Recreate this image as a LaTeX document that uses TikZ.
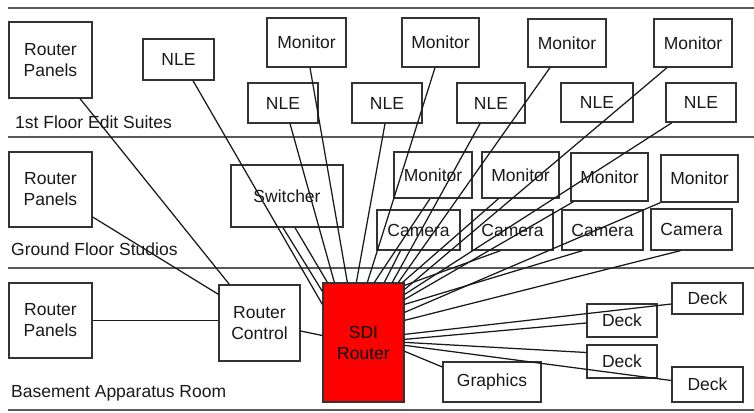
\documentclass[tikz,border=0pt]{standalone}
\usepackage{fontspec}
\setmainfont{Liberation Sans}
\usetikzlibrary{calc}
\begin{document}
\begin{tikzpicture}[x=1pt,y=-1pt,
  box/.style={draw=black!80, line width=1.3pt, inner sep=0pt, align=center,
    font=\fontsize{17.5}{21}\selectfont, text=black!90},
  wire/.style={line width=1.25pt, draw=black!90},
  floorline/.style={line width=1.6pt, draw=black!65},
  floorlabel/.style={anchor=base west, inner sep=0pt,
    font=\fontsize{17.5}{21}\selectfont, text=black!90}]

\useasboundingbox (0,0) rectangle (754,412);

% floor separators
\draw[floorline] (8,8) -- (754,8);
\draw[floorline] (8,137) -- (754,137);
\draw[floorline] (8,268) -- (754,268);
\draw[floorline] (8,410) -- (754,410);

% floor names
\node[floorlabel] (lab1) at (15,128) {1st Floor Edit Suites};
\node[floorlabel] (lab2) at (11,255) {Ground Floor Studios};
\node[floorlabel] (lab3) at (11,397) {Basement Apparatus Room};

% 1st floor
\node[box, minimum width=83pt, minimum height=76pt] (rp1) at (50.5,60) {Router\\Panels};
\node[box, minimum width=71pt, minimum height=41pt] (nle1) at (178.5,59.5) {NLE};
\node[box, minimum width=79pt, minimum height=49pt] (mon1) at (306.5,42.5) {Monitor};
\node[box, minimum width=77pt, minimum height=49pt] (mon2) at (440.5,42.5) {Monitor};
\node[box, minimum width=78pt, minimum height=48pt] (mon3) at (567,43) {Monitor};
\node[box, minimum width=78pt, minimum height=48pt] (mon4) at (693,43) {Monitor};
\node[box, minimum width=70pt, minimum height=40pt] (nle2) at (283,103) {NLE};
\node[box, minimum width=70pt, minimum height=40pt] (nle3) at (387,103) {NLE};
\node[box, minimum width=68pt, minimum height=40pt] (nle4) at (491,103) {NLE};
\node[box, minimum width=72pt, minimum height=39pt] (nle5) at (597,102.5) {NLE};
\node[box, minimum width=70pt, minimum height=39pt] (nle6) at (701,102.5) {NLE};

% ground floor
\node[box, minimum width=83pt, minimum height=75pt] (rp2) at (50.5,189.5) {Router\\Panels};
\node[box, minimum width=112pt, minimum height=62pt] (sw) at (287,196) {Switcher};
\node[box, minimum width=78pt, minimum height=46pt] (monA) at (433,175) {Monitor};
\node[box, minimum width=77pt, minimum height=46pt] (monB) at (520.5,175) {Monitor};
\node[box, minimum width=77pt, minimum height=48pt] (monC) at (609.5,177) {Monitor};
\node[box, minimum width=77pt, minimum height=47pt] (monD) at (699.5,178.5) {Monitor};
\node[box, minimum width=83pt, minimum height=40pt] (camA) at (418.5,230) {Camera};
\node[box, minimum width=81pt, minimum height=40pt] (camB) at (512.5,230) {Camera};
\node[box, minimum width=81pt, minimum height=40pt] (camC) at (602.5,230) {Camera};
\node[box, minimum width=81pt, minimum height=41pt] (camD) at (691.5,229.5) {Camera};

% basement
\node[box, minimum width=83pt, minimum height=75pt] (rp3) at (50.5,320.5) {Router\\Panels};
\node[box, minimum width=81pt, minimum height=76pt] (rc) at (259.5,323) {Router\\Control};
\node[box, fill=red, minimum width=81pt, minimum height=119pt, text=black] (sdi) at (363.5,342.5) {SDI\\Router};
\node[box, minimum width=98pt, minimum height=40pt] (gfx) at (492,382) {Graphics};
\node[box, minimum width=71pt, minimum height=31pt] (deck1) at (707.5,298.5) {Deck};
\node[box, minimum width=70pt, minimum height=33pt] (deck2) at (622,320.5) {Deck};
\node[box, minimum width=70pt, minimum height=33pt] (deck3) at (622,361.5) {Deck};
\node[box, minimum width=71pt, minimum height=35pt] (deck4) at (707.5,384.5) {Deck};

% router panels to router control
\draw[wire] ($(rp1.south)+(29.5,0)$) -- ($(rc.north west)+(11,0)$);
\draw[wire] ($(rp2.east)+(0,27.5)$) -- ($(rc.north west)+(0,10)$);
\draw[wire] (rp3.east) -- (rp3.east -| rc.west);
\draw[wire] ($(rc.east)+(0,8)$) -- ($(sdi.west)+(0,-7)$);

% 1st floor feeds
\draw[wire] ($(nle1.south)+(14.5,0)$) -- ($(sdi.north west)+(0,22)$);
\draw[wire] ($(nle2.south)+(7,0)$) -- ($(sdi.north west)+(12,0)$);
\draw[wire] ($(mon1.south)+(3.5,0)$) -- ($(sdi.north west)+(25,0)$);
\draw[wire] ($(nle3.south)+(-2,0)$) -- ($(sdi.north west)+(34,0)$);
\draw[wire] ($(mon2.south)+(-5.5,0)$) -- ($(sdi.north west)+(45,0)$);
\draw[wire] ($(nle4.south)+(-11,0)$) -- ($(sdi.north west)+(70,0)$);
\draw[wire] ($(mon3.south)+(-17,0)$) -- ($(sdi.north west)+(76,0)$);
\draw[wire] ($(mon4.south)+(-26,0)$) -- ($(sdi.north east)+(0,7)$);
\draw[wire] ($(nle6.south)+(-29,0)$) -- ($(sdi.north east)+(0,12)$);

% ground floor feeds
\draw[wire] ($(sw.south)+(-4,0)$) -- ($(sdi.north west)+(0,9)$);
\draw[wire] ($(sw.south)+(8,0)$) -- ($(sdi.north west)+(5,0)$);
\draw[wire] ($(monA.south)+(-3,0)$) -- ($(sdi.north west)+(52,0)$);
\draw[wire] ($(camA.south)+(-18,0)$) -- ($(sdi.north west)+(62,0)$);
\draw[wire] ($(monB.south)+(-22,0)$) -- ($(sdi.north east)+(-2,0)$);
\draw[wire] ($(camB.south)+(-12,0)$) -- ($(sdi.north east)+(0,3)$);
\draw[wire] ($(monC.south)+(-36,0)$) -- ($(sdi.north east)+(0,17)$);
\draw[wire] ($(camC.south)+(-20,0)$) -- ($(sdi.north east)+(0,22)$);
\draw[wire] (monD.south west) -- ($(sdi.north east)+(0,30)$);
\draw[wire] ($(camD.south)+(-11,0)$) -- ($(sdi.north east)+(0,38)$);

% basement feeds
\draw[wire] ($(sdi.north east)+(0,52)$) -- ($(deck1.west)+(0,5.5)$);
\draw[wire] ($(sdi.north east)+(0,57)$) -- ($(deck2.west)+(0,2.5)$);
\draw[wire] ($(sdi.north east)+(0,60)$) -- ($(deck3.west)+(0,-9)$);
\draw[wire] ($(sdi.north east)+(0,63)$) -- ($(deck4.west)+(0,-4)$);
\draw[wire] ($(sdi.north east)+(0,69)$) -- ($(gfx.west)+(0,-15)$);

\end{tikzpicture}
\end{document}
